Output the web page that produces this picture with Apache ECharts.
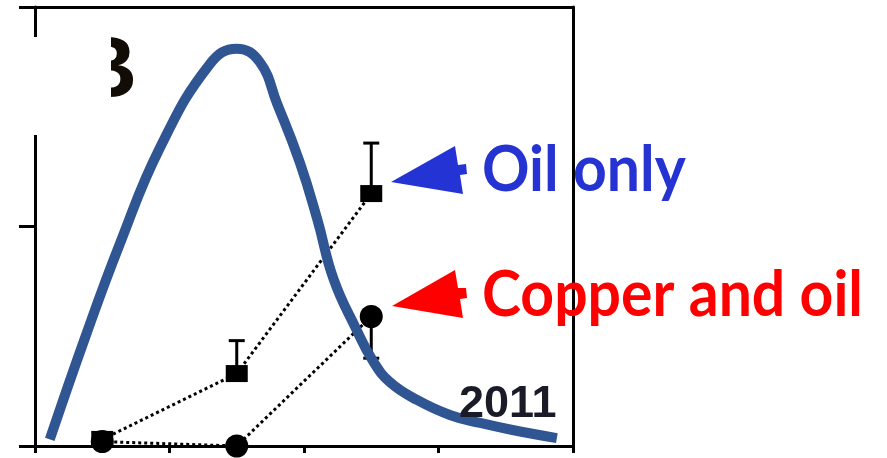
<!DOCTYPE html>
<html>
<head>
<meta charset="utf-8">
<script src="https://cdn.jsdelivr.net/npm/echarts@6/dist/echarts.min.js"></script>
<style>
  html, body { margin: 0; padding: 0; background: #fff; }
  #chart { width: 887px; height: 458px; }
</style>
</head>
<body>
<div id="chart"></div>
<script>
// Sampling positions (x axis runs 0..4, one unit per period)
const samplePos = [0.5, 1.5, 2.5];

// Oil only: means and upper error limits
const oilOnly = [0.03, 0.33, 1.15];
const oilOnlyUpper = [null, 0.48, 1.38];

// Copper and oil: means and lower error limits
const copperOil = [0.02, 0.0, 0.59];
const copperOilLower = [null, null, 0.40];

// Seasonal curve (2011)
const curveX = [0.11, 0.37, 0.63, 0.93, 1.30, 1.50, 1.67, 1.80, 1.97, 2.10, 2.22, 2.39, 2.51, 2.64, 2.84, 3.09, 3.31, 3.55, 3.88];
const curveY = [0.03, 0.49, 0.92, 1.36, 1.74, 1.81, 1.75, 1.56, 1.29, 1.03, 0.76, 0.53, 0.39, 0.29, 0.21, 0.14, 0.105, 0.073, 0.036];

// Axis ranges and tick steps
const xRange = [0, 4];
const xStep = 1;
const yRange = [0, 2];
const yStep = 1;

const pairs = (xs, ys) => xs.map((x, i) => [x, ys[i]]);
const errData = (xs, ys, lim) => xs.map((x, i) => [x, ys[i], lim[i]]).filter(d => d[2] !== null);

function errorBar(params, api) {
  const p = api.coord([api.value(0), api.value(1)]);
  const q = api.coord([api.value(0), api.value(2)]);
  const hw = 8;
  return {
    type: 'group',
    children: [
      { type: 'line', shape: { x1: p[0], y1: p[1], x2: q[0], y2: q[1] }, style: { stroke: '#000', lineWidth: 3 } },
      { type: 'line', shape: { x1: q[0] - hw, y1: q[1], x2: q[0] + hw, y2: q[1] }, style: { stroke: '#000', lineWidth: 3 } }
    ]
  };
}

const axisLineStyle = { color: '#000', width: 3 };
const frameAxis = {
  type: 'value',
  axisLine: { show: true, onZero: false, lineStyle: axisLineStyle },
  axisTick: { show: false }, axisLabel: { show: false }, splitLine: { show: false }
};

const chart = echarts.init(document.getElementById('chart'), null, { renderer: 'canvas' });
chart.setOption({
  animation: false,
  backgroundColor: '#fff',
  grid: { left: 35, right: 314, top: 7, bottom: 12 },
  xAxis: [
    {
      type: 'value', min: xRange[0], max: xRange[1], interval: xStep,
      axisLine: { show: true, onZero: false, lineStyle: axisLineStyle },
      axisTick: { show: true, inside: false, length: 7, lineStyle: axisLineStyle },
      axisLabel: { show: false },
      splitLine: { show: false }
    },
    Object.assign({ position: 'top', min: xRange[0], max: xRange[1] }, frameAxis)
  ],
  yAxis: [
    {
      type: 'value', min: yRange[0], max: yRange[1], interval: yStep,
      axisLine: { show: true, onZero: false, lineStyle: axisLineStyle },
      axisTick: { show: true, inside: false, length: 16, lineStyle: axisLineStyle },
      axisLabel: { show: false },
      splitLine: { show: false }
    },
    Object.assign({ position: 'right', min: yRange[0], max: yRange[1] }, frameAxis)
  ],
  series: [
    {
      name: 'Oil only', type: 'line', z: 3,
      data: pairs(samplePos, oilOnly),
      symbol: 'rect', symbolSize: [22, 17],
      itemStyle: { color: '#000' },
      lineStyle: { color: '#000', width: 3, type: [3, 3] }
    },
    {
      name: 'Copper and oil', type: 'line', z: 3,
      data: pairs(samplePos, copperOil),
      symbol: 'circle', symbolSize: 23,
      itemStyle: { color: '#000' },
      lineStyle: { color: '#000', width: 3, type: [3, 3] }
    },
    {
      type: 'custom', z: 2, renderItem: errorBar,
      data: errData(samplePos, oilOnly, oilOnlyUpper)
    },
    {
      type: 'custom', z: 2, renderItem: errorBar,
      data: errData(samplePos, copperOil, copperOilLower)
    },
    {
      name: '2011', type: 'line', z: 5,
      data: pairs(curveX, curveY),
      smooth: 0.45,
      showSymbol: false, symbol: 'none',
      lineStyle: { color: '#2F5592', width: 10, cap: 'butt' }
    }
  ],
  graphic: [
    // Panel letter, partly masked
    { type: 'text', x: 137, y: 29, z: 10,
      style: { text: 'B', font: 'bold 88px "Liberation Sans"', fill: '#120c06', align: 'right', verticalAlign: 'top' } },
    { type: 'rect', x: 0, y: 37, z: 11, shape: { width: 111, height: 98 }, style: { fill: '#fff' } },
    // Year label
    { type: 'text', x: 459, y: 382, z: 10,
      style: { text: '2011', font: 'bold 45px "Liberation Sans"', fill: '#1b1b28', align: 'left', verticalAlign: 'top' } },
    // Arrows
    { type: 'polygon', z: 10,
      shape: { points: [[391, 182], [455, 146], [458, 165], [466, 164], [467, 174], [460, 175], [463, 194]] },
      style: { fill: '#2433D4' } },
    { type: 'polygon', z: 10,
      shape: { points: [[392, 306], [455, 270], [458, 288], [466, 288], [467, 298], [460, 299], [463, 318]] },
      style: { fill: '#FF0000' } },
    // Series labels
    { type: 'text', x: 482, y: 138, z: 10, scaleX: 0.92,
      style: { text: 'Oil only', font: 'bold 64px Lato', fill: '#2433D2', align: 'left', verticalAlign: 'top' } },
    { type: 'text', x: 482, y: 263, z: 10, scaleX: 0.92,
      style: { text: 'Copper and oil', font: 'bold 64px Lato', fill: '#FF0000', align: 'left', verticalAlign: 'top' } }
  ]
});
</script>
</body>
</html>
